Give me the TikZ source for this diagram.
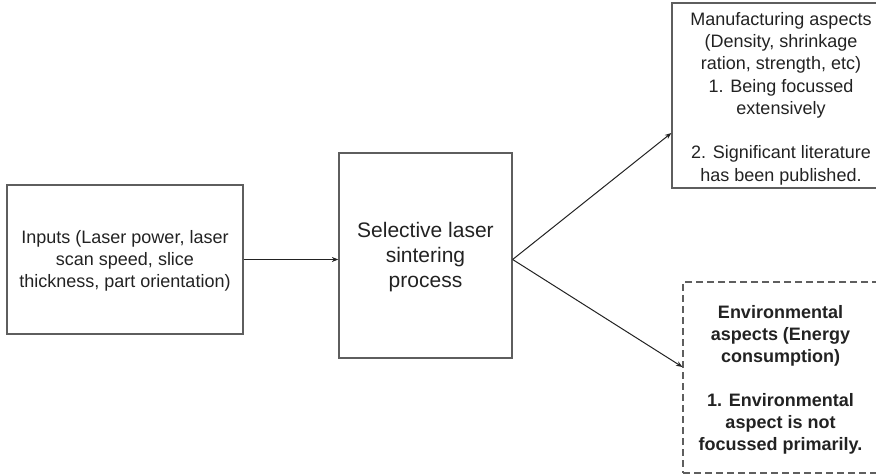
\documentclass[tikz,border=0pt]{standalone}
\usepackage{fontspec}
\setmainfont{Liberation Sans}
\usetikzlibrary{arrows.meta,calc}
\definecolor{edgegray}{HTML}{5E5E5E}
\definecolor{inkgray}{HTML}{222222}
\tikzset{
  box/.style={draw=edgegray, line width=1.3pt, fill=none, inner sep=0pt,
    anchor=center},
  dashbox/.style={box, dash pattern=on 7pt off 4pt, line width=1.1pt},
  caption/.style={align=center, text=inkgray, inner sep=0pt, anchor=center},
  link/.style={draw=inkgray, line width=1pt,
    -{Stealth[length=6.5pt,width=5pt]}}
}
\begin{document}
\begin{tikzpicture}[x=1pt,y=-1pt]
  \useasboundingbox (0,0) rectangle (876,476);

  % process chain
  \node[box, minimum width=236pt, minimum height=149pt] (in) at (125,259.5) {};
  \node[caption, font=\fontsize{18}{22}\selectfont] (intext) at (125,260.5)
    {Inputs (Laser power, laser\\scan speed, slice\\thickness, part orientation)};
  \node[box, minimum width=173pt, minimum height=205pt] (sls) at (425.5,255.5) {};
  \node[caption, font=\fontsize{21}{25}\selectfont] (slstext) at (425.5,257)
    {Selective laser\\sintering\\process};

  % outcome boxes
  \node[box, minimum width=218pt, minimum height=185pt] (manu) at (781,95.5) {};
  \node[caption, font=\fontsize{18}{22.3}\selectfont] (manutext) at (781,98.5)
    {Manufacturing aspects\\(Density, shrinkage\\ration, strength, etc)\\1. Being focussed\\extensively\\[22.3pt]2. Significant literature\\has been published.};
  \node[dashbox, minimum width=195pt, minimum height=191pt] (env) at (780.5,377.5) {};
  \node[caption, font=\fontsize{18}{22}\bfseries\selectfont] (envtext) at (780.5,379.5)
    {Environmental\\aspects (Energy\\consumption)\\[22pt]1. Environmental\\aspect is not\\focussed primarily.};

  % connectors
  \coordinate (fork) at (in.east -| sls.east);
  \coordinate (mtip) at ($(manu.west)+(0,37.5)$);
  \coordinate (etip) at ($(env.west)+(0,-10.5)$);
  \draw[link] (in.east) -- (in.east -| sls.west);
  \draw[link] (fork) -- (mtip);
  \draw[link] (fork) -- (etip);
\end{tikzpicture}
\end{document}
